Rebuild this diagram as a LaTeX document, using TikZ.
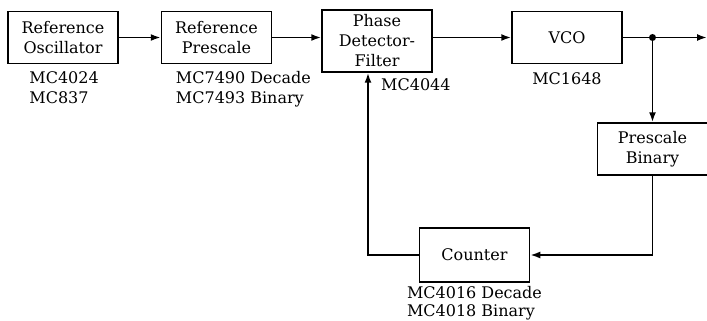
\documentclass[tikz,border=0pt]{standalone}
\usepackage{fontspec}
\setmainfont{DejaVu Serif}
\usetikzlibrary{arrows.meta,positioning,calc}

\begin{document}
\begin{tikzpicture}[x=1pt,y=-1pt,
    node distance=40pt,
    block/.style={draw,line width=1.5pt,minimum width=110pt,minimum height=52pt,
      align=center,font=\fontsize{16}{20}\selectfont},
    part/.style={inner sep=0pt,align=left,font=\fontsize{16}{20}\selectfont},
    arrow/.style={-{Latex[length=10pt,width=7pt]},line width=1.8pt},
    wire/.style={line width=1.8pt}
  ]
    \useasboundingbox (0,0) rectangle (707,321);
    \node[block] (osc) at (63,37.5) {Reference\\Oscillator};
    \node[block,right=42pt of osc] (pre) {Reference\\Prescale};
    \node[block,right=49pt of pre,minimum height=62pt,yshift=-3.5pt] (pd) {Phase\\Detector-\\Filter};
    \node[block] (vco) at (567,37.5) {VCO};
    \node[block] (bin) at (652.5,149) {Prescale\\Binary};
    \node[block,minimum height=54pt] (cnt) at (474.5,255) {Counter};
    \node[part,below right=7pt and 22pt of osc.south west] (osclbl) {MC4024\\MC837};
    \node[part,below right=7pt and 15pt of pre.south west] (prelbl) {MC7490 Decade\\MC7493 Binary};
    \node[part,below right=6pt and 4pt of pd.south] (pdlbl) {MC4044};
    \node[part,below=8pt of vco] (vcolbl) {MC1648};
    \node[part,below=3pt of cnt,font=\fontsize{16}{18}\selectfont] (cntlbl) {MC4016 Decade\\MC4018 Binary};
    \coordinate (tap) at (bin.north |- vco.east);
    \coordinate (out) at (707,37.5);
    \draw[arrow] (osc)--(pre);\draw[arrow] (pre)--(pd.west |- pre);
    \draw[arrow] (pd.east |- vco)--(vco);
    \draw[wire] (vco)--(tap);\draw[arrow] (tap)--(out);\draw[arrow] (tap)--(bin);
    \fill (tap) circle (3.5pt);
    \draw[arrow] (bin) |- (cnt);
    \draw[arrow] (cnt) -| ([xshift=-9pt]pd.south);
  \end{tikzpicture}
\end{document}
